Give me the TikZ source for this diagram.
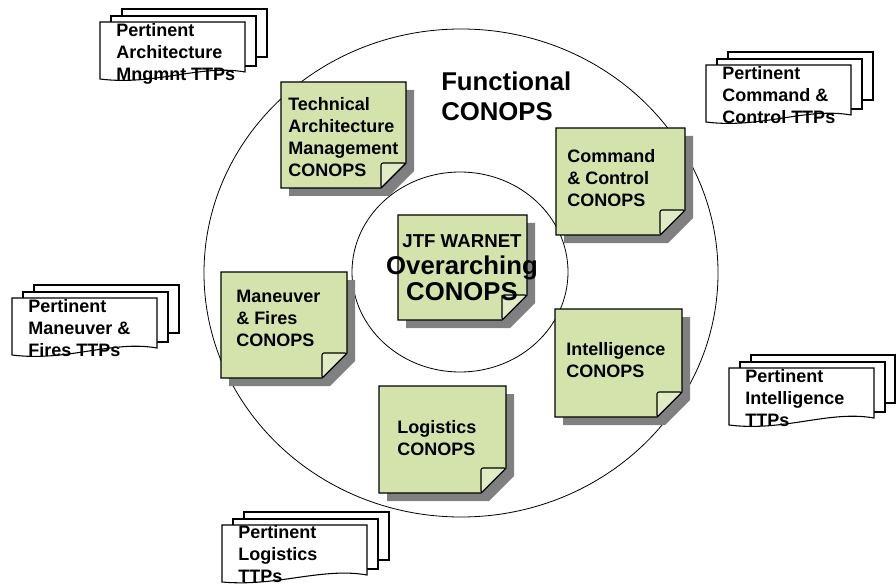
\documentclass[tikz,border=0pt]{standalone}
\usepackage{fontspec}
\setmainfont{Liberation Sans}
\usetikzlibrary{shadows}

\definecolor{notegreen}{RGB}{212,227,172}
\definecolor{shadowgray}{RGB}{128,128,128}

\begin{document}
\begin{tikzpicture}[x=0.75pt, y=-0.75pt,
  ring/.style={line width=0.6pt},
  notebox/.style={draw, line width=0.8pt, fill=notegreen,
    drop shadow={shadow xshift=6pt, shadow yshift=-6pt, opacity=1, fill=shadowgray}},
  flap/.style={draw, line width=0.8pt, fill=notegreen!70!white, rounded corners=1.5pt},
  notetext/.style={anchor=west, inner sep=0pt, align=left, font=\bfseries\fontsize{13.5}{16.5}\selectfont},
  page/.style={draw, line width=0.8pt, fill=white},
  ttptext/.style={anchor=north west, inner sep=0pt, align=left, font=\bfseries\fontsize{13.5}{16.5}\selectfont}]
\useasboundingbox (0,0) rectangle (896,588);

% rings
\draw[ring] (461,273) ellipse [x radius=192.75pt, y radius=183pt];
\draw[ring] (460,272) ellipse [x radius=81pt, y radius=75pt];
\node[anchor=west, inner sep=0pt, align=left, font=\bfseries\fontsize{19.3}{22.5}\selectfont] (func) at (441,96) {Functional\\CONOPS};

% sticky notes
\draw[notebox] (281,82) -- (406,82) -- (406,163) -- (381,188) -- (281,188) -- cycle;
\draw[flap] (406,163) -- (381,163) -- (381,188) -- cycle;
\node[notetext] (tam) at (288,137) {Technical\\Architecture\\Management\\CONOPS};

\draw[notebox] (556,128) -- (685,128) -- (685,210) -- (660,235) -- (556,235) -- cycle;
\draw[flap] (685,210) -- (660,210) -- (660,235) -- cycle;
\node[notetext] (cc) at (567,178) {Command\\\& Control\\CONOPS};

\draw[notebox] (398,215) -- (527,215) -- (527,295) -- (502,320) -- (398,320) -- cycle;
\draw[flap] (527,295) -- (502,295) -- (502,320) -- cycle;
\node[inner sep=0pt, align=center, font=\bfseries\fontsize{19.3}{20}\selectfont] (jtf) at (462,268)
  {{\fontsize{14}{17}\selectfont JTF WARNET}\\Overarching\\CONOPS};

\draw[notebox] (221,272) -- (347,272) -- (347,353) -- (322,378) -- (221,378) -- cycle;
\draw[flap] (347,353) -- (322,353) -- (322,378) -- cycle;
\node[notetext] (mf) at (236,318) {Maneuver\\\& Fires\\CONOPS};

\draw[notebox] (555,309) -- (682,309) -- (682,392) -- (657,417) -- (555,417) -- cycle;
\draw[flap] (682,392) -- (657,392) -- (657,417) -- cycle;
\node[notetext] (intel) at (566,360) {Intelligence\\CONOPS};

\draw[notebox] (379,386) -- (506,386) -- (506,468) -- (481,493) -- (379,493) -- cycle;
\draw[flap] (506,468) -- (481,468) -- (481,493) -- cycle;
\node[notetext] (log) at (397,438) {Logistics\\CONOPS};

% TTP document stacks
\draw[page] (122,9) rectangle (267,57);
\draw[page] (111,16) rectangle (256,66);
\draw[page] (100,22) -- (245,22) -- (245,72) .. controls (200,64) and (155,86) .. (100,79) -- cycle;
\node[ttptext] (archttp) at (116,23) {Pertinent\\Architecture\\Mngmnt TTPs};

\draw[page] (728,52) rectangle (873,100);
\draw[page] (717,59) rectangle (862,109);
\draw[page] (706,65) -- (851,65) -- (851,115) .. controls (806,107) and (761,129) .. (706,122) -- cycle;
\node[ttptext] (ccttp) at (722,66) {Pertinent\\Command \&\\Control TTPs};

\draw[page] (34,285) rectangle (179,333);
\draw[page] (23,292) rectangle (168,342);
\draw[page] (12,298) -- (157,298) -- (157,348) .. controls (112,340) and (67,362) .. (12,355) -- cycle;
\node[ttptext] (mfttp) at (28,299) {Pertinent\\Maneuver \&\\Fires TTPs};

\draw[page] (751,355) rectangle (895,403);
\draw[page] (740,362) rectangle (885,412);
\draw[page] (729,368) -- (874,368) -- (874,418) .. controls (829,410) and (784,432) .. (729,425) -- cycle;
\node[ttptext] (intelttp) at (745,369) {Pertinent\\Intelligence\\TTPs};

\draw[page] (244,512) rectangle (389,560);
\draw[page] (233,519) rectangle (378,569);
\draw[page] (222,525) -- (367,525) -- (367,575) .. controls (322,567) and (277,587) .. (222,582) -- cycle;
\node[ttptext] (logttp) at (238,525) {Pertinent\\Logistics\\TTPs};
\end{tikzpicture}
\end{document}
